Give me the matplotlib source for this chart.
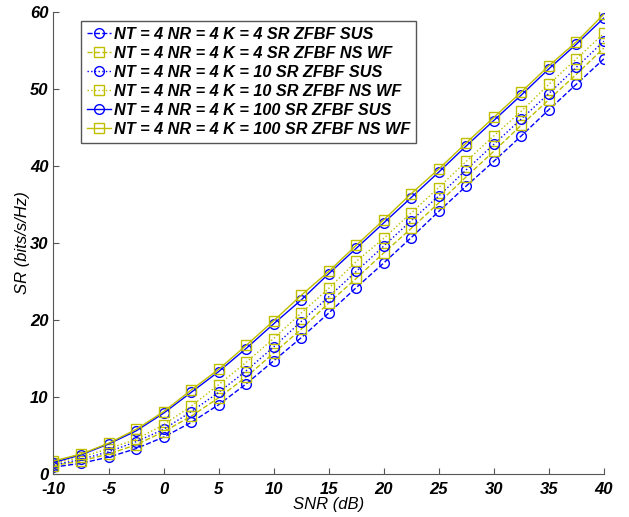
import matplotlib
matplotlib.use("Agg")
import matplotlib.pyplot as plt

# SNR grid (dB)
snr = [-10, -7.5, -5, -2.5, 0, 2.5, 5, 7.5, 10, 12.5, 15, 17.5, 20,
       22.5, 25, 27.5, 30, 32.5, 35, 37.5, 40]

# sum rate (bits/s/Hz)
k4_sus = [0.9, 1.4, 2.2, 3.3, 4.8, 6.7, 9.0, 11.7, 14.7, 17.7, 20.9, 24.2,
          27.4, 30.7, 34.1, 37.4, 40.6, 43.9, 47.3, 50.6, 53.9]
k4_nswf = [1.1, 1.7, 2.6, 3.8, 5.5, 7.5, 9.9, 12.6, 15.7, 18.8, 22.2, 25.4,
           28.7, 31.9, 35.2, 38.6, 41.9, 45.3, 48.6, 51.9, 55.3]
k10_sus = [1.2, 1.9, 2.9, 4.2, 5.8, 8.1, 10.6, 13.4, 16.5, 19.8, 23.0, 26.3,
           29.6, 32.9, 36.1, 39.5, 42.8, 46.1, 49.4, 52.8, 56.2]
k10_nswf = [1.4, 2.2, 3.3, 4.5, 6.4, 8.8, 11.6, 14.5, 17.6, 20.9, 24.1, 27.6,
            30.6, 33.9, 37.2, 40.6, 43.9, 47.1, 50.6, 53.9, 57.2]
k100_sus = [1.5, 2.5, 3.9, 5.6, 7.9, 10.6, 13.3, 16.3, 19.5, 22.6, 26.0, 29.3,
            32.6, 35.9, 39.2, 42.6, 45.9, 49.2, 52.6, 55.8, 59.2]
k100_nswf = [1.7, 2.6, 4.0, 5.8, 8.1, 10.9, 13.6, 16.7, 19.9, 23.2, 26.3, 29.7,
             33.0, 36.4, 39.6, 43.0, 46.3, 49.6, 53.0, 56.1, 59.7]

labels = ["NT = 4 NR = 4 K = 4 SR ZFBF SUS",
          "NT = 4 NR = 4 K = 4 SR ZFBF NS WF",
          "NT = 4 NR = 4 K = 10 SR ZFBF SUS",
          "NT = 4 NR = 4 K = 10 SR ZFBF NS WF",
          "NT = 4 NR = 4 K = 100 SR ZFBF SUS",
          "NT = 4 NR = 4 K = 100 SR ZFBF NS WF"]

blue = "#0000ff"
olive = "#bfbf00"

plt.rcParams['font.family'] = ['Liberation Sans', 'DejaVu Sans']
plt.rcParams['axes.unicode_minus'] = False

fig = plt.figure(figsize=(6.29, 5.17), dpi=100)
ax = fig.add_axes([0.085, 0.083, 0.875, 0.894])

series = [(k4_sus, blue, '--', 'o'), (k4_nswf, olive, '--', 's'),
          (k10_sus, blue, ':', 'o'), (k10_nswf, olive, ':', 's'),
          (k100_sus, blue, '-', 'o'), (k100_nswf, olive, '-', 's')]

for (vals, col, ls, mk), lab in zip(series, labels):
    ax.plot(snr, vals, color=col, linestyle=ls, marker=mk, markersize=7,
            markerfacecolor='none', markeredgecolor=col, linewidth=1,
            markeredgewidth=1, label=lab)

ax.set_xlim(-10, 40)
ax.set_ylim(0, 60)
ax.set_xticks(range(-10, 41, 5))
ax.set_yticks(range(0, 61, 10))

for s in ['top', 'right']:
    ax.spines[s].set_visible(False)
for s in ['left', 'bottom']:
    ax.spines[s].set_color('#555555')
ax.tick_params(direction='in', length=4, color='#555555', labelsize=12)
ax.tick_params(axis='x', pad=6)
for t in ax.get_xticklabels() + ax.get_yticklabels():
    t.set_fontweight('bold')
    t.set_fontstyle('italic')

ax.set_xlabel('SNR (dB)', fontsize=12, fontstyle='italic', labelpad=0)
ax.set_ylabel('SR (bits/s/Hz)', fontsize=12, fontstyle='italic', labelpad=0)

leg = ax.legend(loc='upper left', bbox_to_anchor=(0.05, 0.98), borderaxespad=0,
                fancybox=False, framealpha=1, edgecolor='#555555',
                prop={'size': 11.7, 'weight': 'bold', 'style': 'italic'},
                handlelength=1.5, handletextpad=0.2, labelspacing=0.25,
                borderpad=0.35)
leg.get_frame().set_linewidth(1)

fig.savefig('out.png', dpi=100)
